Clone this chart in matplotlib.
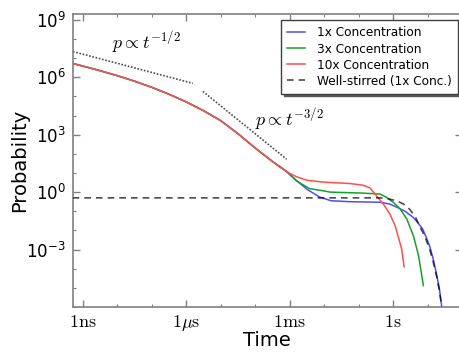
import numpy as np
import matplotlib
matplotlib.use("Agg")
import matplotlib.pyplot as plt
from matplotlib.ticker import NullFormatter

# ---- data (log10 of time in s, log10 of probability) ----
common_logt = [-9.3, -9.0, -8.5, -8.0, -7.5, -7.0, -6.5, -6.0, -5.5, -5.0, -4.5, -4.0, -3.5]
common_logp = [6.72, 6.58, 6.34, 6.08, 5.79, 5.47, 5.11, 4.71, 4.25, 3.73, 3.05, 2.30, 1.60]

blue_logt = [-3.3, -3.1, -2.8, -2.5, -2.13, -1.8, -1.26, -0.39, -0.1, 0.1, 0.35, 0.57, 0.72,
             0.86, 0.96, 1.06, 1.16, 1.26, 1.34, 1.41]
blue_logp = [1.35, 1.08, 0.60, 0.15, -0.26, -0.45, -0.50, -0.53, -0.62, -0.78, -1.0, -1.30, -1.6,
             -1.93, -2.35, -2.81, -3.45, -4.27, -5.0, -5.94]

green_logt = [-3.3, -3.1, -2.8, -2.42, -2.0, -1.83, -0.9, -0.38, -0.18, 0.01, 0.21, 0.40, 0.59,
              0.74, 0.88]
green_logp = [1.35, 1.10, 0.58, 0.18, 0.06, 0.0, -0.05, -0.10, -0.28, -0.54, -0.89, -1.41, -2.28,
              -3.32, -4.88]

red_logt = [-3.3, -3.0, -2.8, -2.5, -2.0, -1.26, -0.87, -0.67, -0.48, -0.28, -0.09, 0.06,
            0.25, 0.32]
red_logp = [1.32, 0.98, 0.80, 0.62, 0.52, 0.45, 0.36, 0.22, -0.19, -0.63, -1.15, -1.75,
            -2.97, -3.9]

well_logt = [-9.3, -0.4, -0.19, 0.1, 0.3, 0.48, 0.65, 0.77, 0.92, 1.06, 1.16, 1.26, 1.34, 1.41]
well_logp = [-0.30, -0.30, -0.33, -0.45, -0.62, -0.89, -1.3, -1.77, -2.3, -2.97, -3.6, -4.37, -5.1, -5.94]

guide1_logt = [-9.29, -5.81]
guide1_logp = [7.34, 5.68]
guide2_logt = [-5.52, -3.09]
guide2_logp = [5.26, 1.72]

labels = ["1x Concentration", "3x Concentration", "10x Concentration", "Well-stirred (1x Conc.)"]
xtick_vals = [1e-9, 1e-6, 1e-3, 1.0]
xtick_labels = [r"$1\mathrm{ns}$", r"$1\mu\mathrm{s}$", r"$1\mathrm{ms}$", r"$1\mathrm{s}$"]
ytick_vals = [1e-3, 1e0, 1e3, 1e6, 1e9]


def tv(a):
    return 10.0 ** np.asarray(a)


fig = plt.figure(figsize=(4.6, 3.52), dpi=100)
ax = fig.add_axes([0.1578, 0.1278, 0.8465, 0.8324])

blue_t = tv(common_logt + blue_logt)
blue_p = tv(common_logp + blue_logp)
green_t = tv(common_logt + green_logt)
green_p = tv(common_logp + green_logp)
red_t = tv(common_logt + red_logt)
red_p = tv(common_logp + red_logp)

ax.plot(blue_t, blue_p, color="#4d4dff", lw=1.1, label=labels[0], zorder=3)
ax.plot(green_t, green_p, color="#15a02a", lw=1.1, label=labels[1], zorder=4)
ax.plot(red_t, red_p, color="#ff4d4d", lw=1.1, label=labels[2], zorder=5)
ax.plot(tv(well_logt), tv(well_logp), color="k", alpha=0.7, lw=1.2, ls=(0, (4, 3)),
        label=labels[3], zorder=6)

ax.plot(tv(guide1_logt), tv(guide1_logp), color="0.3", lw=1.2, ls=(0, (1, 1)), zorder=2)
ax.plot(tv(guide2_logt), tv(guide2_logp), color="0.3", lw=1.2, ls=(0, (1, 1)), zorder=2)

t1 = ax.text(10 ** -8.16, 10 ** 7.8, r"$p\propto t^{-1/2}$", fontsize=13, ha="left", va="center")
t2 = ax.text(10 ** -4.0, 10 ** 3.8, r"$p\propto t^{-3/2}$", fontsize=13, ha="left", va="center")
t1.set_math_fontfamily("cm")
t2.set_math_fontfamily("cm")

ax.set_xscale("log")
ax.set_yscale("log")
ax.set_xlim(5e-10, 1e2)
ax.set_ylim(1e-6, 2e9)

ax.set_xticks(xtick_vals)
ax.set_xticklabels(xtick_labels, fontsize=13)
for lbl in ax.get_xticklabels():
    lbl.set_math_fontfamily("cm")
ax.set_xticks(10.0 ** np.arange(-9, 3), minor=True)
ax.xaxis.set_minor_formatter(NullFormatter())

ax.set_yticks(ytick_vals)
ax.set_yticks(10.0 ** np.arange(-6, 10), minor=True)
ax.yaxis.set_minor_formatter(NullFormatter())
for lbl in ax.get_yticklabels():
    lbl.set_fontsize(12)

ax.tick_params(which="both", direction="in", top=True, right=True, color="0.5")
ax.tick_params(which="major", length=5, width=1)
ax.tick_params(which="minor", length=2.5, width=0.8)
ax.tick_params(axis="y", which="major", pad=5)
ax.tick_params(axis="x", which="major", pad=4)

for sp in ax.spines.values():
    sp.set_color("0.5")
    sp.set_linewidth(1.2)

ax.set_xlabel("Time", fontsize=14, va="center")
ax.xaxis.set_label_coords(0.5, -0.113)
ax.set_ylabel("Probability", fontsize=14, va="center")
ax.yaxis.set_label_coords(-0.135, 0.5)

leg = ax.legend(loc="upper right", bbox_to_anchor=(0.99, 0.978), borderaxespad=0,
                fontsize=8.7, shadow={"color": "0.35", "alpha": 1.0}, fancybox=False,
                framealpha=1, edgecolor="0.25", handlelength=1.5, handletextpad=1.0,
                labelspacing=0.25, borderpad=0.5)
leg.get_frame().set_linewidth(1.0)

fig.savefig("out.png", dpi=100)
